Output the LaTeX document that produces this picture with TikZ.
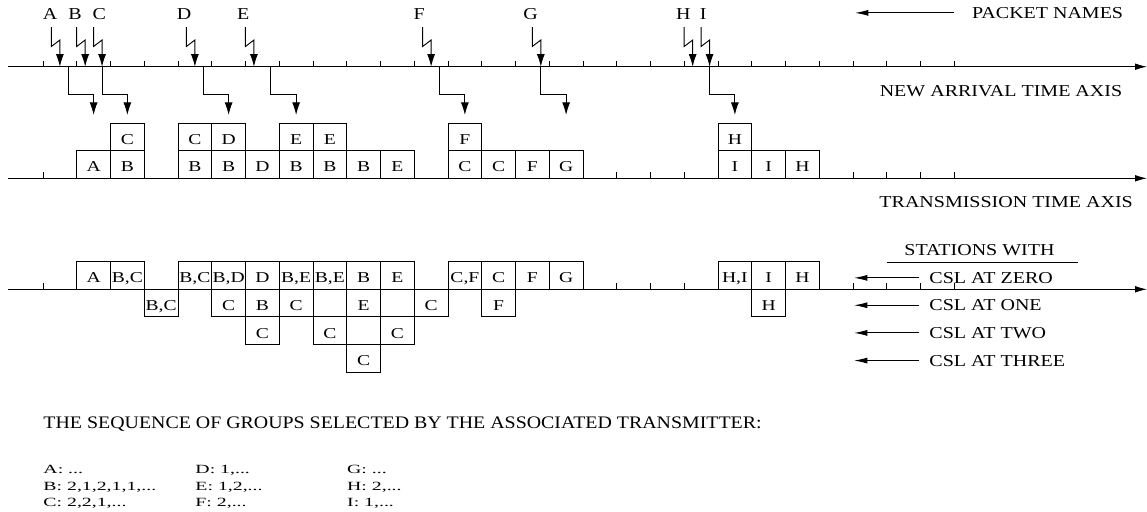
\documentclass[tikz,border=0pt]{standalone}
\usepackage{fontspec}
\setmainfont{Liberation Serif}
\newfontfamily\lblfont[FakeStretch=1.2]{Liberation Serif}
\newfontfamily\boxfont[FakeStretch=1.3]{Liberation Serif}
\newfontfamily\seqfont[FakeStretch=1.58]{Liberation Serif}
\newfontfamily\headfont[FakeStretch=1.13]{Liberation Serif}
\usetikzlibrary{arrows.meta}

\begin{document}
\begin{tikzpicture}[x=0.75pt,y=-0.75pt,line width=0.7pt]
\tikzstyle{txt}=[anchor=base west,inner sep=0pt,font={\lblfont\fontsize{12.5}{15}\selectfont}];
\tikzstyle{pkt}=[anchor=base,inner sep=0pt,font={\lblfont\fontsize{12.5}{15}\selectfont}];
\tikzstyle{seq}=[anchor=base west,inner sep=0pt,font={\seqfont\fontsize{9.4}{11}\selectfont}];
\tikzstyle{res}=[draw,fill=white,minimum width=25.31pt,minimum height=20.7pt,inner sep=0pt,text height=11.1pt,text depth=0pt,font={\boxfont\fontsize{11.3}{13}\selectfont}];
\tikzstyle{timeax}=[-{Latex[length=9pt,width=5pt]}];
\tikzstyle{bolt}=[-{Latex[length=9.5pt,width=6pt]}];
\tikzstyle{alloc}=[-{Latex[length=9.5pt,width=6pt]}];
\tikzstyle{pointer}=[-{Latex[length=10pt,width=4.5pt]}];
\useasboundingbox (0,0) rectangle (1147,511);

% the three time axes
\coordinate (n0) at (8,66.7);  \coordinate (n1) at (1147,66.7);
\coordinate (t0) at (8,178.3); \coordinate (t1) at (1147,178.3);
\coordinate (s0) at (8,289.3); \coordinate (s1) at (1147,289.3);
\draw [timeax] (n0) -- (n1);
\draw [timeax] (t0) -- (t1);
\draw [timeax] (s0) -- (s1);
\foreach \k in {0,...,27} {
  \draw ({43+33.75*\k},66.7) -- +(0,-6);
  \draw ({43+33.75*\k},178.3) -- +(0,-6);
  \draw ({43+33.75*\k},289.3) -- +(0,-6);
}

% packet arrivals
\foreach \p/\lx/\s in {A/50/0.5,B/75/1.25,C/99.3/1.75,D/184/4.5,E/243.3/6.25,F/419.3/11.5,G/530.7/14.75,H/683.3/19.25,I/703.3/19.75} {
  \node [pkt] (\p) at (\lx,19.5) {\p};
  \coordinate (a\p) at ({43+33.75*\s},66.7);
  \coordinate (b\p) at ({43+33.75*\s-8.5},27);
  \draw [bolt] (b\p) -- ++(0,19.5) -- ++(8.5,-6.5) -- (a\p);
}

% new arrivals moved to the transmission axis
\foreach \s [count=\i] in {0.75,1.75,4.75,6.75,11.75,14.75,19.75} {
  \coordinate (d\i) at ({43+33.75*\s},66.7);
  \coordinate (e\i) at ({43+33.75*(\s+0.75)},115);
  \draw [alloc] (d\i) -- ++(0,28) -| (e\i);
}

% transmission time axis
\foreach \k/\r/\t in {1/0/A,2/0/B,2/1/C,4/0/B,4/1/C,5/0/B,5/1/D,6/0/D,7/0/B,7/1/E,8/0/B,8/1/E,9/0/B,10/0/E,12/0/C,12/1/F,13/0/C,14/0/F,15/0/G,20/0/I,20/1/H,21/0/I,22/0/H}
  \node [res] (x\k-\r) at ({43+33.75*(\k+0.5)},{164.5-27.6*\r}) {\t};

% stations with csl
\foreach \k/\r/\t in {1/0/A,2/0/{B,C},4/0/{B,C},5/0/{B,D},6/0/D,7/0/{B,E},8/0/{B,E},9/0/B,10/0/E,12/0/{C,F},13/0/C,14/0/F,15/0/G,20/0/{H,I},21/0/I,22/0/H,
  3/1/{B,C},5/1/C,6/1/B,7/1/C,9/1/E,11/1/C,13/1/F,21/1/H,6/2/C,8/2/C,10/2/C,9/3/C}
  \node [res] (y\k-\r) at ({43+33.75*(\k+0.5)},{275.5+27.6*\r}) {\t};

\node [txt] (pn) at (971.7,18.3) {PACKET NAMES};
\draw [pointer] ([xshift=-13.3pt]pn.west) -- ++(-99,0);
\node [txt] (na) at (879.3,96) {NEW ARRIVAL TIME AXIS};
\node [txt] (tt) at (879,207.3) {TRANSMISSION TIME AXIS};
\node [txt] (sw) at (904,255) {STATIONS WITH};
\draw ([shift={(-13pt,-5pt)}]sw.south west) -- ([shift={(17pt,-5pt)}]sw.south east);
\foreach \n/\t/\b in {0/ZERO/283.3,1/ONE/310.7,2/TWO/338.3,3/THREE/366} {
  \node [txt] (c\n) at (929,\b) {CSL AT \t};
  \draw [pointer] ([xshift=-7.5pt]c\n.west) -- ++(-65,0);
}

\node [anchor=base west,inner sep=0pt,font={\headfont\fontsize{13.2}{16}\selectfont}] (hd) at (43,428.3) {THE SEQUENCE OF GROUPS SELECTED BY THE ASSOCIATED TRANSMITTER:};
\node [seq] (qA) at (43,473.3) {A: ...};
\node [seq] (qB) at (43,490) {B: 2,1,2,1,1,...};
\node [seq] (qC) at (43,506.7) {C: 2,2,1,...};
\node [seq] (qD) at (195,473.3) {D: 1,...};
\node [seq] (qE) at (195,490) {E: 1,2,...};
\node [seq] (qF) at (195,506.7) {F: 2,...};
\node [seq] (qG) at (346.7,473.3) {G: ...};
\node [seq] (qH) at (346.7,490) {H: 2,...};
\node [seq] (qI) at (346.7,506.7) {I: 1,...};
\end{tikzpicture}
\end{document}
